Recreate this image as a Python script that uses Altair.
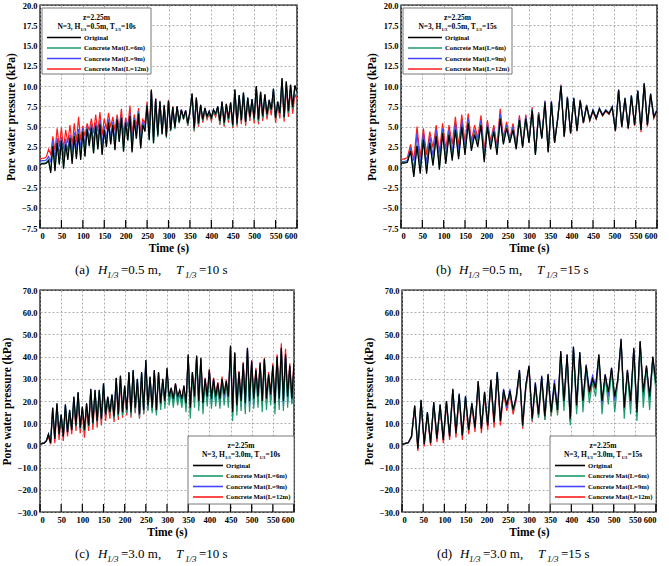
import altair as alt
import pandas as pd

# ---------------------------------------------------------------------------
# Data: pore water pressure (kPa) at z = 2.25 m, sampled every 5 s (T = 10 s)
# or every 7.5 s (T = 15 s)
# ---------------------------------------------------------------------------
SERIES = ["Original", "Concrete Mat(L=6m)", "Concrete Mat(L=9m)", "Concrete Mat(L=12m)"]
COLORS = ["#000000", "#1d9a6c", "#4646ff", "#ff1c1c"]
DRAW_ORDER = ["Concrete Mat(L=12m)", "Concrete Mat(L=9m)", "Concrete Mat(L=6m)", "Original"]

TIME_10S = [5 * i for i in range(121)]
TIME_15S = [7.5 * i for i in range(81)]

# (a) H1/3 = 0.5 m, T1/3 = 10 s
A_ORIGINAL = [
    0.3, 0.4, 0.4, 0.5, 0.8, -0.7, 2.6, -0.5, 3.0, 0.3,
    3.3, -0.2, 2.8, 0.9, 3.6, 0.4, 3.8, 1.0, 4.1, 0.9,
    4.4, 1.3, 4.7, 2.6, 4.9, 1.7, 5.1, 2.2, 5.3, 1.5,
    4.6, 2.5, 5.5, 2.8, 5.2, 2.1, 5.9, 3.1, 6.1, 1.9,
    5.5, 3.3, 6.3, 1.8, 5.8, 3.5, 6.6, 2.3, 5.2, 4.4,
    7.6, 3.4, 9.5, 3.0, 8.4, 3.9, 8.1, 4.1, 7.6, 3.8,
    8.2, 4.6, 7.4, 4.9, 7.5, 5.6, 7.1, 6.1, 7.0, 5.4,
    6.9, 9.1, 4.8, 8.6, 5.4, 7.7, 5.9, 7.3, 6.3, 6.9,
    6.1, 7.1, 6.6, 7.5, 5.7, 8.1, 5.5, 7.8, 6.0, 8.0,
    5.2, 9.6, 5.4, 8.9, 5.8, 9.2, 5.6, 8.6, 6.2, 8.4,
    6.0, 10.0, 5.9, 9.3, 6.3, 9.0, 6.5, 8.3, 7.1, 9.7,
    6.1, 8.1, 6.7, 11.0, 6.2, 10.6, 6.9, 10.2, 7.4, 10.1,
    9.3,
]
A_L6 = [
    0.4, 0.5, 0.5, 0.6, 0.9, -0.5, 2.7, -0.3, 3.1, 0.5,
    3.4, 0.0, 2.9, 1.1, 3.7, 0.6, 3.9, 1.2, 4.2, 1.1,
    4.5, 1.4, 4.8, 2.7, 5.0, 1.8, 5.2, 2.3, 5.4, 1.6,
    4.7, 2.6, 5.6, 2.9, 5.3, 2.2, 6.0, 3.2, 6.2, 2.0,
    5.6, 3.3, 6.4, 1.9, 5.9, 3.5, 6.7, 2.4, 5.3, 4.4,
    7.6, 3.3, 9.4, 2.9, 8.3, 3.7, 8.0, 4.0, 7.5, 3.6,
    8.1, 4.4, 7.3, 4.7, 7.4, 5.4, 7.0, 5.9, 6.9, 5.1,
    6.8, 9.0, 4.5, 8.5, 5.2, 7.6, 5.7, 7.2, 6.1, 6.8,
    5.9, 7.0, 6.4, 7.4, 5.4, 8.0, 5.2, 7.7, 5.8, 7.9,
    5.0, 9.5, 5.2, 8.8, 5.6, 9.1, 5.4, 8.5, 6.0, 8.3,
    5.8, 9.9, 5.6, 9.2, 6.0, 8.9, 6.3, 8.2, 6.9, 9.6,
    5.9, 8.0, 6.5, 10.9, 6.0, 10.5, 6.7, 10.1, 7.2, 10.0,
    9.2,
]
A_L9 = [
    0.7, 0.8, 0.8, 0.9, 1.3, 0.6, 3.3, 0.9, 3.6, 1.5,
    3.7, 1.2, 3.5, 2.0, 4.0, 1.8, 4.3, 2.2, 4.7, 2.3,
    4.8, 2.6, 5.0, 3.5, 5.3, 2.9, 5.5, 3.2, 5.8, 2.8,
    5.1, 3.5, 5.9, 3.7, 5.6, 3.3, 6.1, 3.9, 6.4, 3.0,
    5.9, 4.0, 6.7, 2.9, 6.1, 4.2, 6.9, 3.1, 5.6, 4.9,
    7.7, 3.8, 9.4, 3.3, 8.4, 4.0, 8.1, 4.2, 7.6, 3.9,
    8.2, 4.6, 7.4, 4.9, 7.5, 5.6, 7.1, 6.0, 7.0, 5.3,
    6.9, 9.0, 4.7, 8.6, 5.4, 7.7, 5.8, 7.3, 6.2, 6.9,
    6.0, 7.1, 6.5, 7.5, 5.6, 8.1, 5.4, 7.8, 5.9, 8.0,
    5.2, 9.5, 5.4, 8.9, 5.8, 9.2, 5.6, 8.6, 6.1, 8.4,
    5.9, 9.9, 5.8, 9.3, 6.2, 9.0, 6.4, 8.3, 7.0, 9.6,
    6.0, 8.1, 6.6, 10.9, 6.1, 10.5, 6.8, 10.1, 7.3, 10.0,
    9.1,
]
A_L12 = [
    1.0, 1.1, 1.1, 1.3, 2.2, 1.6, 3.8, 2.0, 4.8, 2.5,
    4.9, 2.2, 4.6, 3.0, 5.2, 2.7, 5.4, 3.1, 6.2, 3.3,
    5.1, 3.8, 5.4, 4.5, 6.0, 4.2, 6.5, 4.4, 6.8, 3.9,
    6.0, 4.7, 6.7, 4.9, 6.2, 4.5, 6.5, 4.8, 7.2, 4.1,
    6.1, 5.0, 7.6, 3.9, 6.5, 5.0, 7.3, 4.3, 5.9, 5.4,
    8.1, 4.4, 9.6, 3.8, 8.5, 4.3, 8.2, 4.4, 7.7, 4.0,
    8.3, 4.7, 7.5, 4.9, 7.5, 5.5, 7.0, 5.9, 6.9, 5.1,
    6.7, 8.9, 4.4, 8.3, 5.0, 7.4, 5.5, 7.0, 5.9, 6.6,
    5.7, 6.8, 6.2, 7.2, 5.2, 7.8, 5.0, 7.5, 5.5, 7.7,
    4.8, 9.2, 5.0, 8.5, 5.3, 8.8, 5.1, 8.2, 5.7, 8.0,
    5.4, 9.5, 5.3, 8.8, 5.7, 8.5, 5.9, 7.8, 6.4, 9.1,
    5.5, 7.6, 6.0, 10.2, 5.6, 9.8, 6.2, 9.5, 6.6, 9.0,
    8.4,
]

# (b) H1/3 = 0.5 m, T1/3 = 15 s
B_ORIGINAL = [
    0.5, 0.5, 0.6, 2.0, -1.2, 2.6, -0.8, 3.4, -0.8, 3.0,
    0.2, 3.8, -0.3, 4.2, 0.4, 4.0, 0.8, 4.6, 1.0, 5.0,
    1.5, 5.4, 2.0, 4.0, 2.5, 5.2, 0.6, 5.0, 2.2, 4.4,
    1.5, 6.0, 2.8, 4.8, 3.0, 4.6, 2.2, 5.8, 2.4, 6.0,
    3.0, 7.0, 1.5, 6.5, 3.5, 8.0, 1.8, 8.0, 3.0, 6.0,
    10.0, 3.8, 8.6, 4.2, 8.5, 4.5, 8.2, 5.5, 7.6, 5.8,
    7.0, 6.0, 7.2, 6.4, 7.0, 6.6, 7.4, 4.5, 9.5, 5.0,
    8.5, 4.8, 8.8, 5.2, 9.4, 4.6, 10.3, 5.2, 9.0, 6.2,
    7.0,
]
B_L6 = [
    0.6, 0.6, 0.7, 2.1, -1.0, 2.8, -0.5, 3.5, -0.5, 3.1,
    0.5, 3.9, 0.0, 4.3, 0.7, 4.1, 1.1, 4.7, 1.3, 5.1,
    1.8, 5.5, 2.3, 4.1, 2.8, 5.3, 0.9, 5.1, 2.5, 4.5,
    1.8, 6.1, 3.0, 4.9, 3.2, 4.7, 2.4, 5.9, 2.6, 6.1,
    3.1, 7.1, 1.6, 6.6, 3.6, 8.0, 1.9, 8.0, 3.0, 6.0,
    10.0, 3.8, 8.6, 4.2, 8.5, 4.5, 8.2, 5.5, 7.6, 5.8,
    7.0, 6.0, 7.2, 6.4, 7.0, 6.6, 7.4, 4.5, 9.5, 5.0,
    8.5, 4.8, 8.8, 5.2, 9.4, 4.6, 10.3, 5.2, 9.0, 6.2,
    7.0,
]
B_L9 = [
    0.7, 0.7, 0.8, 2.4, -0.4, 4.2, 0.2, 4.2, 0.4, 3.8,
    1.4, 4.6, 0.8, 4.8, 1.2, 4.6, 1.8, 5.4, 1.8, 5.8,
    2.2, 6.0, 2.6, 4.6, 3.1, 5.8, 1.3, 5.4, 2.7, 4.8,
    2.1, 6.6, 3.2, 5.2, 3.3, 5.0, 2.5, 6.1, 2.6, 6.3,
    3.1, 7.2, 1.7, 6.7, 3.7, 8.2, 2.0, 8.2, 3.2, 6.2,
    10.1, 3.9, 8.7, 4.3, 8.6, 4.6, 8.3, 5.6, 7.7, 5.9,
    7.1, 6.1, 7.3, 6.5, 7.1, 6.7, 7.5, 4.6, 9.6, 5.1,
    8.6, 4.9, 8.9, 5.3, 9.5, 4.7, 10.4, 5.3, 9.1, 6.3,
    7.1,
]
B_L12 = [
    1.0, 1.0, 1.2, 2.8, 0.8, 5.0, 1.2, 4.8, 1.5, 4.4,
    2.4, 5.2, 1.8, 5.4, 2.2, 5.2, 2.8, 6.2, 2.6, 6.5,
    3.0, 6.6, 3.2, 5.2, 3.6, 6.4, 2.0, 5.8, 3.2, 5.2,
    2.6, 7.2, 3.6, 5.6, 3.5, 5.4, 2.8, 6.4, 2.8, 6.5,
    3.2, 7.4, 1.8, 6.8, 3.7, 8.2, 2.0, 8.1, 3.1, 6.1,
    10.2, 3.7, 8.6, 4.1, 8.4, 4.4, 8.1, 5.4, 7.5, 5.7,
    6.9, 5.9, 7.1, 6.3, 6.9, 6.5, 7.3, 4.4, 9.4, 4.9,
    8.4, 4.7, 8.6, 5.1, 9.3, 4.3, 10.2, 5.0, 8.8, 6.0,
    6.9,
]

# (c) H1/3 = 3.0 m, T1/3 = 10 s
C_ORIGINAL = [
    0.5, 0.8, 1.0, 2.0, 5.0, 1.0, 17.0, 3.0, 19.0, 5.0,
    14.0, 4.0, 18.5, 6.0, 16.0, 7.0, 22.0, 9.0, 24.0, 8.0,
    17.5, 7.0, 19.0, 9.0, 25.5, 10.0, 25.0, 11.0, 25.0, 12.0,
    28.0, 14.0, 22.0, 15.0, 23.0, 13.0, 30.5, 14.0, 31.5, 15.0,
    27.0, 16.0, 33.0, 15.0, 34.0, 17.0, 30.0, 14.0, 33.0, 16.0,
    38.5, 18.0, 31.0, 17.0, 34.0, 16.0, 33.0, 19.0, 30.0, 20.0,
    35.0, 22.0, 26.0, 21.0, 28.0, 22.0, 25.0, 21.0, 27.0, 19.0,
    41.0, 17.0, 33.0, 22.0, 40.5, 20.0, 39.5, 19.0, 30.0, 22.0,
    34.0, 21.0, 30.0, 22.0, 28.0, 21.0, 30.0, 23.0, 29.0, 22.0,
    45.0, 15.0, 42.0, 18.0, 33.0, 20.0, 37.0, 19.0, 44.0, 20.0,
    38.0, 21.0, 34.0, 22.0, 37.0, 20.0, 39.0, 21.0, 32.0, 23.0,
    36.0, 19.0, 40.0, 21.0, 44.0, 20.0, 41.0, 22.0, 36.0, 21.0,
    37.0,
]
C_L6 = [
    0.5, 0.8, 1.0, 2.0, 5.0, 1.0, 16.5, 3.0, 18.5, 5.0,
    13.5, 4.0, 18.0, 6.0, 15.5, 7.0, 21.5, 8.5, 23.5, 7.5,
    17.0, 6.5, 18.5, 8.5, 25.0, 9.5, 24.5, 10.5, 24.5, 11.0,
    27.5, 13.0, 21.5, 14.0, 22.5, 12.0, 30.0, 13.0, 31.0, 13.5,
    26.5, 14.5, 32.5, 13.5, 33.5, 15.0, 29.5, 12.5, 32.5, 14.0,
    38.0, 15.5, 30.5, 14.5, 33.5, 13.5, 32.5, 16.0, 29.5, 16.5,
    34.0, 18.0, 24.5, 17.0, 26.5, 18.0, 23.5, 17.0, 25.5, 15.0,
    40.0, 12.0, 32.0, 17.0, 39.5, 15.5, 38.5, 14.0, 29.0, 17.5,
    33.0, 16.5, 29.0, 17.5, 27.0, 16.5, 29.0, 18.0, 28.0, 17.0,
    44.0, 11.0, 41.0, 13.5, 32.0, 15.5, 36.0, 14.0, 43.0, 15.0,
    37.0, 16.5, 33.0, 17.0, 36.0, 15.0, 38.0, 16.0, 31.0, 18.0,
    35.0, 14.0, 39.0, 16.0, 43.0, 15.5, 40.0, 17.0, 35.0, 18.5,
    35.0,
]
C_L9 = [
    0.6, 0.9, 1.1, 2.1, 5.0, 1.0, 16.8, 3.0, 18.8, 5.0,
    13.8, 4.0, 18.3, 6.0, 15.8, 7.0, 21.8, 8.8, 23.8, 7.8,
    17.3, 6.8, 18.8, 8.8, 25.3, 9.8, 24.8, 10.8, 24.8, 11.5,
    27.8, 13.5, 21.8, 14.5, 22.8, 12.5, 30.3, 13.5, 31.3, 14.2,
    26.8, 15.2, 32.8, 14.2, 33.8, 16.0, 29.8, 13.2, 32.8, 15.0,
    38.3, 16.8, 30.8, 15.8, 33.8, 14.8, 32.8, 17.5, 29.8, 18.2,
    34.5, 20.0, 25.5, 19.0, 27.5, 20.0, 24.5, 19.0, 26.5, 17.0,
    40.5, 14.5, 32.5, 19.5, 40.0, 17.5, 39.0, 16.5, 29.5, 19.5,
    33.5, 18.5, 29.5, 19.5, 27.5, 18.5, 29.5, 20.5, 28.5, 19.5,
    44.5, 13.0, 41.5, 15.5, 32.5, 17.5, 36.5, 16.5, 43.5, 17.5,
    37.5, 18.5, 33.5, 19.5, 36.5, 17.5, 38.5, 18.5, 31.5, 20.5,
    35.5, 16.5, 39.5, 18.5, 43.5, 17.5, 40.5, 19.5, 35.5, 19.0,
    36.0,
]
C_L12 = [
    0.8, 1.0, 1.2, 2.0, 4.0, 0.5, 15.0, 1.0, 17.0, 2.5,
    12.0, 2.0, 16.0, 4.0, 14.0, 5.0, 19.5, 6.5, 21.0, 5.5,
    15.0, 3.5, 16.5, 6.5, 23.0, 7.0, 22.5, 8.0, 22.5, 9.0,
    25.0, 11.0, 20.0, 12.0, 21.0, 10.5, 28.0, 11.5, 29.0, 12.5,
    25.0, 13.5, 31.0, 12.5, 32.0, 14.5, 28.0, 12.0, 31.0, 14.0,
    36.5, 16.0, 29.5, 15.5, 32.5, 15.0, 31.5, 18.0, 29.0, 19.0,
    33.5, 21.0, 25.5, 20.5, 27.5, 21.5, 24.5, 20.5, 26.5, 18.5,
    40.0, 17.5, 33.0, 21.5, 40.0, 20.0, 39.0, 19.5, 30.5, 22.0,
    34.5, 21.5, 30.5, 22.5, 28.5, 21.5, 31.0, 23.0, 29.5, 22.0,
    44.0, 16.0, 41.5, 18.5, 33.5, 20.5, 37.5, 20.0, 43.5, 21.0,
    38.5, 21.5, 35.0, 22.5, 37.5, 21.0, 39.5, 22.0, 33.0, 23.5,
    37.0, 20.0, 41.0, 22.0, 46.0, 21.0, 43.5, 23.0, 37.0, 22.5,
    38.0,
]

# (d) H1/3 = 3.0 m, T1/3 = 15 s
D_ORIGINAL = [
    0.5, 0.8, 1.2, 4.0, 18.0, -1.5, 20.5, 0.5, 15.0, 1.0,
    19.5, 3.0, 18.5, 2.5, 20.0, 4.0, 25.5, 5.5, 23.0, 4.5,
    22.0, 7.0, 19.0, 8.0, 29.0, 7.5, 24.0, 9.0, 29.5, 10.5,
    33.0, 11.0, 25.0, 18.0, 24.5, 16.0, 22.0, 34.0, 9.0, 27.0,
    36.0, 12.0, 28.0, 14.0, 31.0, 13.0, 32.0, 15.0, 28.0, 16.0,
    42.5, 20.0, 41.0, 12.0, 44.5, 18.0, 42.0, 20.0, 36.0, 24.0,
    30.0, 26.0, 41.0, 20.0, 32.0, 24.0, 35.0, 22.0, 30.0, 48.0,
    17.0, 34.0, 20.0, 44.0, 15.0, 47.0, 24.0, 36.0, 22.0, 40.0,
    28.0,
]
D_L6 = [
    0.5, 0.8, 1.2, 4.0, 17.5, -1.0, 20.0, 1.0, 14.5, 1.5,
    19.0, 3.5, 18.0, 3.0, 19.5, 4.5, 25.0, 6.0, 22.5, 5.0,
    21.5, 7.5, 18.5, 8.5, 28.5, 8.0, 23.5, 9.5, 29.0, 11.0,
    32.5, 11.5, 24.5, 18.0, 24.0, 15.5, 21.5, 33.0, 8.5, 26.0,
    35.0, 11.0, 27.0, 12.5, 30.0, 11.5, 31.0, 13.0, 27.0, 13.5,
    41.0, 15.5, 40.0, 9.0, 43.5, 14.0, 41.0, 15.0, 35.0, 19.0,
    28.5, 22.0, 40.0, 14.0, 30.5, 18.5, 34.0, 15.0, 29.0, 47.0,
    12.0, 33.0, 14.0, 43.0, 11.0, 46.0, 17.0, 35.0, 16.0, 39.0,
    24.0,
]
D_L9 = [
    0.6, 0.9, 1.3, 4.2, 17.8, -1.2, 20.3, 0.8, 14.8, 1.2,
    19.3, 3.2, 18.3, 2.8, 19.8, 4.2, 25.3, 5.7, 23.5, 4.7,
    22.3, 7.2, 19.3, 8.2, 28.8, 7.7, 24.3, 9.2, 29.3, 10.7,
    32.8, 11.2, 25.5, 17.0, 25.5, 15.5, 22.5, 33.8, 9.2, 27.5,
    35.8, 12.2, 28.5, 14.2, 31.5, 13.2, 32.3, 15.2, 29.5, 16.2,
    42.3, 19.0, 40.8, 11.0, 44.3, 17.0, 41.8, 19.0, 36.5, 25.0,
    31.5, 27.0, 40.8, 18.5, 32.0, 22.0, 34.8, 20.0, 30.0, 47.8,
    15.5, 33.8, 18.5, 43.8, 13.5, 46.8, 22.0, 35.8, 20.5, 39.8,
    27.0,
]
D_L12 = [
    0.8, 1.0, 1.4, 3.5, 16.5, -2.5, 19.0, -0.5, 13.5, 0.0,
    18.0, 1.5, 17.0, 1.0, 18.5, 2.5, 24.0, 3.5, 21.5, 2.5,
    20.5, 5.0, 17.5, 6.0, 27.5, 5.5, 22.5, 7.0, 28.0, 8.0,
    31.5, 9.0, 23.5, 15.5, 23.0, 14.0, 20.5, 32.5, 7.5, 25.5,
    34.5, 10.5, 26.5, 12.5, 29.5, 11.5, 30.5, 13.5, 26.5, 14.5,
    41.0, 18.0, 39.5, 10.5, 43.0, 16.5, 40.5, 18.5, 35.0, 22.5,
    29.0, 25.0, 39.5, 18.5, 31.0, 22.5, 34.0, 20.5, 29.0, 46.5,
    16.5, 33.0, 19.0, 43.0, 14.5, 45.5, 23.0, 35.0, 21.0, 39.0,
    27.0,
]

X_TICKS = [0, 50, 100, 150, 200, 250, 300, 350, 400, 450, 500, 550, 600]
Y_TICKS_SMALL = [-7.5, -5.0, -2.5, 0.0, 2.5, 5.0, 7.5, 10.0, 12.5, 15.0, 17.5, 20.0]
Y_TICKS_LARGE = [-30, -20, -10, 0, 10, 20, 30, 40, 50, 60, 70]

FONT = "Liberation Serif"
ONE = pd.DataFrame({"k": [0]})


def long_table(time, columns):
    rows = []
    for name, values in zip(SERIES, columns):
        assert len(values) == len(time), name
        for t, v in zip(time, values):
            rows.append({"t": t, "p": v, "series": name})
    return pd.DataFrame(rows)


def text_mark(text, px, py, size, style="normal", weight="normal", align="left",
              baseline="alphabetic"):
    return (
        alt.Chart(ONE)
        .mark_text(text=text, font=FONT, fontSize=size, fontStyle=style,
                   fontWeight=weight, align=align, baseline=baseline, color="black")
        .encode(x=alt.value(px), y=alt.value(py))
    )


def caption_marks(letter, height_text, period_text, h):
    y0 = h + 46
    return [
        text_mark(f"({letter})", 35, y0, 13),
        text_mark("H", 58, y0, 13, style="italic"),
        text_mark("1/3", 67, y0 + 4, 9, style="italic"),
        text_mark(f"={height_text} m,", 81, y0, 13),
        text_mark("T", 136, y0, 13, style="italic"),
        text_mark("1/3", 145, y0 + 4, 9, style="italic"),
        text_mark(f"={period_text} s", 159, y0, 13),
    ]


def legend_marks(height_text, period_text, box):
    x0, y0, bw, bh, l0, l1, lx = box
    marks = [
        alt.Chart(ONE)
        .mark_rect(fill="white", stroke="#555555", strokeWidth=0.8)
        .encode(x=alt.value(x0), x2=alt.value(x0 + bw),
                y=alt.value(y0), y2=alt.value(y0 + bh))
    ]
    marks.append(text_mark("z=2.25m", x0 + bw / 2, y0 + 12, 7.5, weight="bold",
                           align="center"))
    # second heading line, with the 1/3 subscripts set smaller and lower
    fs, sub = 7.5, 4.6
    parts = [
        ("N=3, H", fs, 0, 3.07 * fs),
        ("1/3", sub, 2, 1.28 * sub),
        (f"={height_text}m, T", fs, 0, 3.82 * fs),
        ("1/3", sub, 2, 1.28 * sub),
        (f"={period_text}s", fs, 0, 1.96 * fs),
    ]
    total = sum(p[3] for p in parts)
    cx = x0 + (bw - total) / 2
    for text, size, dy, width in parts:
        marks.append(text_mark(text, cx, y0 + 21 + dy, size, weight="bold"))
        cx += width
    for i, (name, col) in enumerate(zip(SERIES, COLORS)):
        ry = y0 + 29.5 + 10.5 * i
        marks.append(
            alt.Chart(ONE)
            .mark_rule(strokeWidth=1.6, color=col)
            .encode(x=alt.value(x0 + l0), x2=alt.value(x0 + l1), y=alt.value(ry))
        )
        marks.append(text_mark(name, x0 + lx, ry + 2.3, 6.7, weight="bold"))
    return marks


def panel(df, ydomain, yticks, letter, height_text, period_text, box, w, h):
    x = alt.X("t:Q", scale=alt.Scale(domain=[0, 600], nice=False, zero=False),
              axis=alt.Axis(values=X_TICKS, title="Time (s)", format="d"))
    y = alt.Y("p:Q", scale=alt.Scale(domain=ydomain, nice=False, zero=False),
              axis=alt.Axis(values=yticks, format=".1f",
                            title="Pore water pressure (kPa)"))
    color = alt.Color("series:N", scale=alt.Scale(domain=SERIES, range=COLORS),
                      legend=None)
    base = alt.Chart(df)
    lines = [
        base.transform_filter(alt.datum.series == s)
        .mark_line(strokeWidth=1.2, clip=True)
        .encode(x=x, y=y, color=color)
        for s in DRAW_ORDER
    ]
    ticks = (
        alt.Chart(pd.DataFrame({"t": X_TICKS}))
        .mark_rule(color="black", strokeWidth=1.2)
        .encode(x=x, y=alt.value(h), y2=alt.value(h - 8))
    )
    legend = legend_marks(height_text, period_text, box)
    caption = caption_marks(letter, height_text, period_text, h)
    return alt.layer(*lines, ticks, *legend, *caption).properties(width=w, height=h)


W_TOP, H_TOP = 257, 223
W_BOT, H_BOT = 254, 222
BOX_TOP = (2, 3, 109, 66, 5, 39, 42)
BOX_BOT = (148, 146, 106, 68, 5, 35, 38)

panel_a = panel(long_table(TIME_10S, [A_ORIGINAL, A_L6, A_L9, A_L12]),
                [-7.5, 20], Y_TICKS_SMALL, "a", "0.5", "10", BOX_TOP, W_TOP, H_TOP)
panel_b = panel(long_table(TIME_15S, [B_ORIGINAL, B_L6, B_L9, B_L12]),
                [-7.5, 20], Y_TICKS_SMALL, "b", "0.5", "15", BOX_TOP, W_TOP - 1, H_TOP)
panel_c = panel(long_table(TIME_10S, [C_ORIGINAL, C_L6, C_L9, C_L12]),
                [-30, 70], Y_TICKS_LARGE, "c", "3.0", "10", BOX_BOT, W_BOT, H_BOT)
panel_d = panel(long_table(TIME_15S, [D_ORIGINAL, D_L6, D_L9, D_L12]),
                [-30, 70], Y_TICKS_LARGE, "d", "3.0", "15", BOX_BOT, W_BOT, H_BOT)

top = alt.hconcat(panel_a, panel_b, spacing=66)
bottom = alt.hconcat(panel_c, panel_d, spacing=66)

chart = (
    alt.vconcat(top, bottom, spacing=4)
    .properties(padding={"left": 0, "top": 0, "right": 4, "bottom": 4},
                background="white")
    .configure_view(stroke="black", strokeWidth=1.4)
    .configure_axis(
        labelFont=FONT, labelFontWeight="bold", labelFontSize=8.5, labelColor="black",
        titleFont=FONT, titleFontWeight="bold", titleFontSize=11.5, titleColor="black",
        domain=False, ticks=False, grid=True, gridColor="#9a9a9a", gridDash=[2, 2],
        gridWidth=0.8, labelPadding=3,
    )
    .configure_axisX(titlePadding=3)
    .configure_axisY(titlePadding=5)
)

chart.save("out.html", embed_options={"renderer": "svg", "actions": False})
